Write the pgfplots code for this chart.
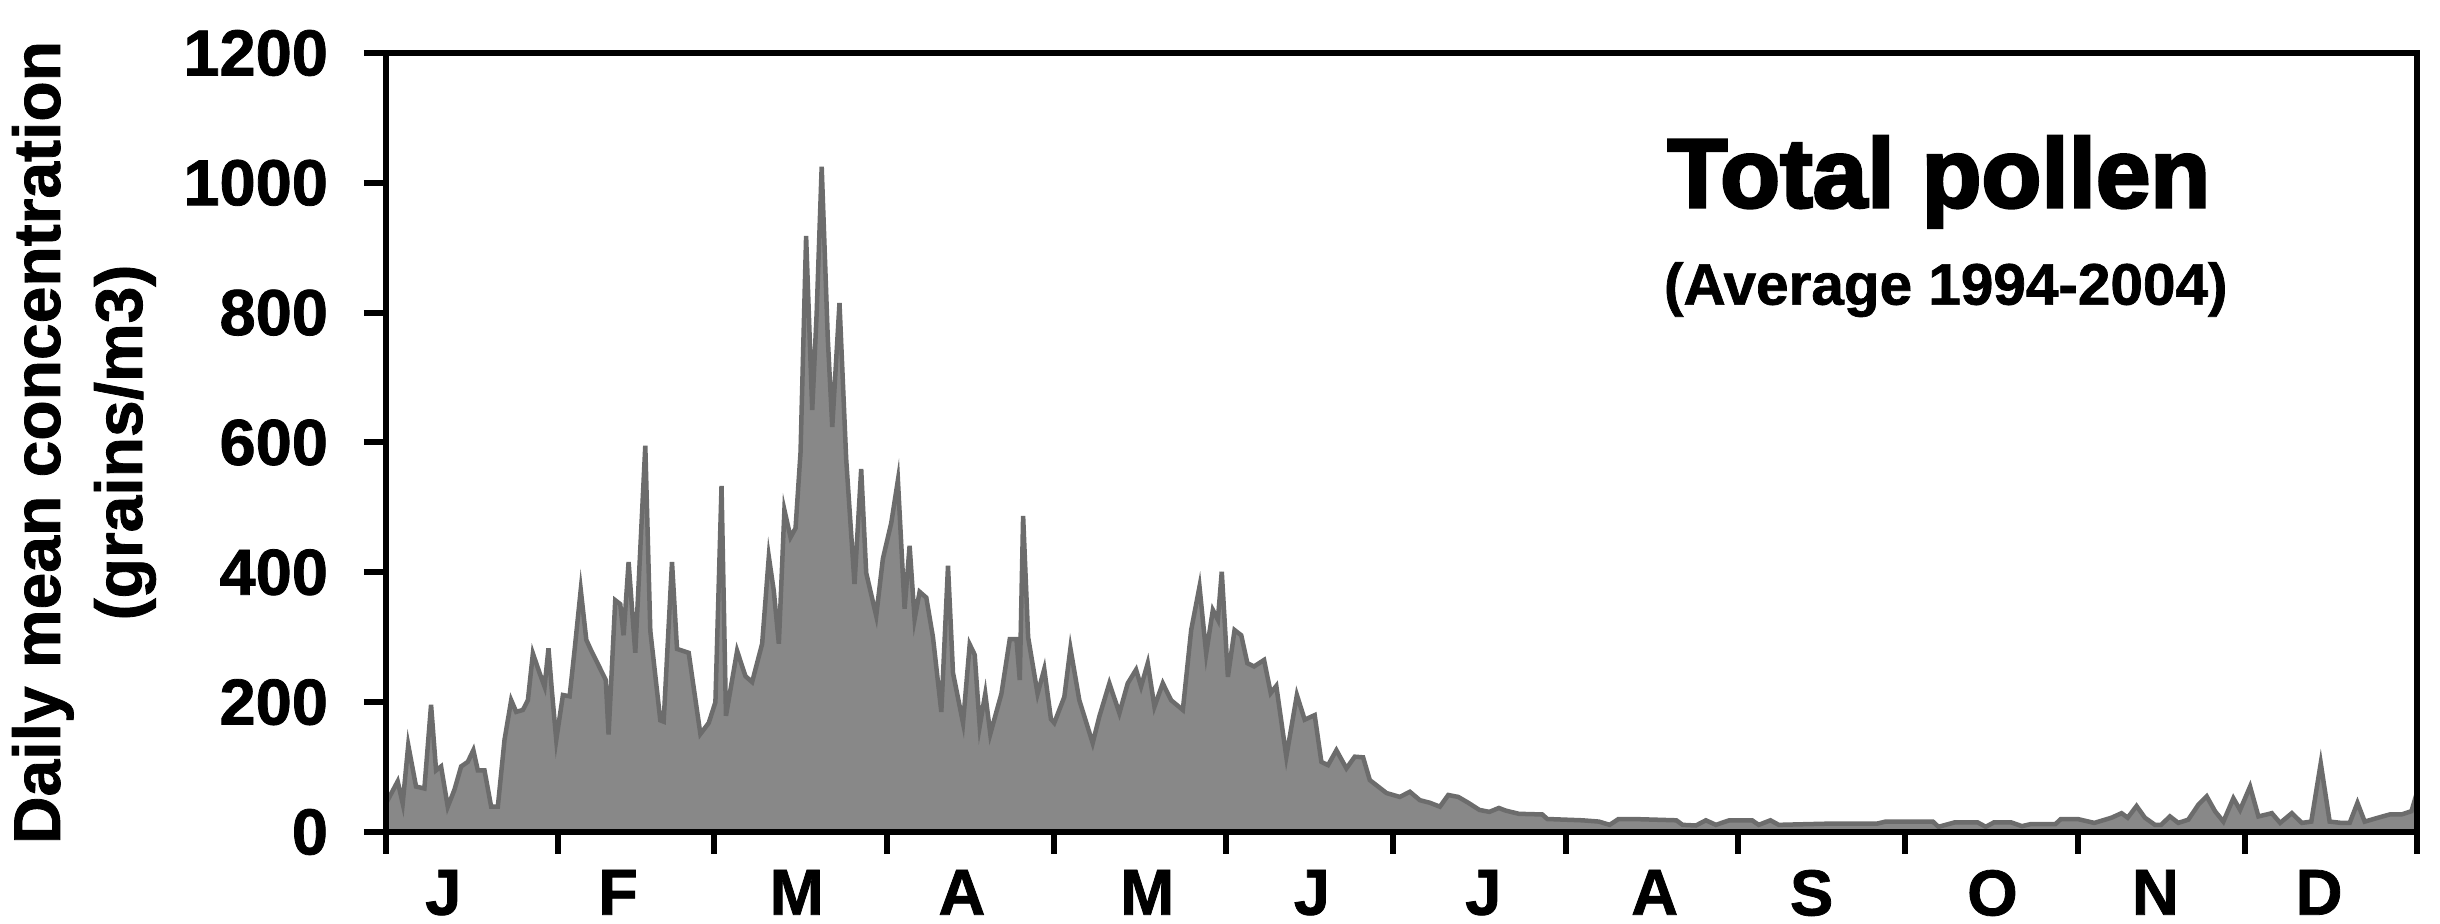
\documentclass[border=0pt]{standalone}
\usepackage{fontspec}
\setmainfont{Liberation Sans}
\newfontfamily\heavyfont[FakeBold=3]{Liberation Sans Bold}
\newfontfamily\boldfont[FakeBold=1.2]{Liberation Sans Bold}
\usepackage{pgfplots}
\pgfplotsset{compat=1.18}
\definecolor{fillgray}{RGB}{136,136,136}
\definecolor{edgegray}{RGB}{108,108,108}

% daily mean concentration, day of year (0 = 1 Jan)
\pgfplotstableread{
day val
0 44
2.1 78
3 44
4 134
5.4 70
6.9 67
8.1 196
9 95
9.9 101
11.1 39
12.3 65
13.5 101
14.7 108
15.7 126
16.5 95
17.7 95
18.9 39
20.1 39
21.3 142
22.5 203
23.4 185
24.6 188
25.5 203
26.4 275
27.6 245
28.5 224
29.2 283
29.8 219
30.6 142
31.8 211
33 209
33.9 281
35 373
36 296
36.8 281
38.3 255
39.5 234
40 150
41.2 357
42.1 351
42.7 303
43.6 416
44.8 276
46.6 595
47.5 310
49.3 172
49.9 170
51.4 416
52.3 282
54.4 276
56.5 151
58 168
59.2 200
60.3 533
61.1 179
63.1 279
64.6 240
65.8 231
67.6 290
68.8 424
69.7 371
70.6 290
71.6 496
72.7 454
73.6 468
74.5 585
75.5 918
76.6 650
77.4 800
78.3 1025
79.4 760
80.2 624
81.5 815
82.7 575
84.2 382
85.4 559
86.3 399
88.1 333
89.3 421
90.8 476
92 542
93.2 344
94.1 441
95 328
95.9 370
97.1 361
98.3 300
99.8 185
101 410
101.9 245
103.7 168
104.9 289
105.8 273
106.7 163
107.7 213
108.6 151
110.6 213
112.1 297
113.3 297
113.9 234
114.5 487
115.4 300
117.1 213
118.3 251
119.5 174
120.1 168
121.9 208
123 283
124.6 203
127 137
128.2 178
130 229
131.8 183
133.3 229
134.8 250
135.7 224
136.9 260
138.1 193
139.6 229
141.1 203
143.2 188
144.7 311
146.2 378
147.4 275
148.6 342
149.5 327
150.2 401
151.3 239
152.5 311
153.7 303
154.8 260
156 255
157.8 265
159 214
160 225
161.8 116
163.7 211
165.1 173
166.9 180
168.1 108
169.3 103
170.8 126
172.6 98
174.1 116
175.6 115
176.8 80
178 72
179.8 60
182.2 54
184 62
185.8 49
187.6 45
189.4 39
190.9 57
192.7 54
194.5 45
196.5 34
198.3 31
200 37
201.2 33
203.6 28
207.8 27
208.7 20
215 18
218 16
219.9 11
221.5 20
224 20
231.9 18
233 11
235.4 10
237.2 18
239 11
241.4 18
245.5 18
246.7 11
248.8 18
250.3 11
255 12
260 13
268 13
269.5 16
278 16
279 8
282 15
286 15
287.5 8
289 15
292 15
294 9
295.5 12
300 12
301 20
304 20
305 18
307 14
310.1 22
311.9 29
313 22
314.6 40
316.1 22
317.9 11
319 11
320.6 24
322.1 14
323.9 19
325.7 42
327.2 55
328.7 32
330.2 16
332 52
333.2 34
335 70
336.5 24
338 27
338.9 29
340.4 14
342.5 29
344.3 14
346 16
347.7 106
349.3 16
351.4 14
352.9 14
354.3 45
355.6 16
358 22
360.1 27
362.2 27
364 32
364.9 58
}\pollen

\begin{document}
\begin{tikzpicture}
\begin{axis}[
  name=ax,
  scale only axis,
  width=406.2pt, height=155.8pt,
  xmin=0, xmax=365, ymin=0, ymax=1200,
  axis on top,
  clip=false,
  axis line style={line width=1.2pt},
  tick style={line width=1.2pt, black},
  tick align=outside,
  major tick length=4.4pt,
  xtick pos=bottom, ytick pos=left,
  xtick={0,31,59,90,120,151,181,212,243,273,304,334,365},
  xticklabels={},
  extra x ticks={10.3,41.7,73.8,103.5,136.8,166.4,197.2,228,256.2,288.7,318,347.4},
  extra x tick labels={J,F,M,A,M,J,J,A,S,O,N,D},
  extra x tick style={major tick length=0pt,
    xticklabel style={font=\boldfont\fontsize{13}{15}\selectfont, inner sep=0pt, yshift=-7.4pt}},
  ytick={0,200,...,1200},
  scaled y ticks=false,
  /pgf/number format/1000 sep={},
  /pgf/number format/assume math mode=true,
  yticklabel style={font=\boldfont\fontsize{13}{15}\selectfont, inner sep=0pt, xshift=-7pt},
]
\addplot[draw=edgegray, line width=0.9pt, fill=fillgray] table[x=day, y=val] {\pollen} \closedcycle;
\node[anchor=base, font=\heavyfont\fontsize{19.6}{22}\selectfont] at (rel axis cs:0.7646,0.802) {Total pollen};
\node[anchor=base, font=\boldfont\fontsize{11.7}{14}\selectfont] at (rel axis cs:0.768,0.677) {(Average 1994-2004)};
\end{axis}
\node[rotate=90, align=center, font=\boldfont\fontsize{13.2}{16.4}\selectfont] at ([xshift=-60.4pt]ax.west) {Daily mean concentration\\(grains/m3)};
\pgfresetboundingbox
\path ([xshift=-77.2pt, yshift=-18.4pt]ax.south west) rectangle ([xshift=4.6pt, yshift=10.6pt]ax.north east);
\end{tikzpicture}
\end{document}
